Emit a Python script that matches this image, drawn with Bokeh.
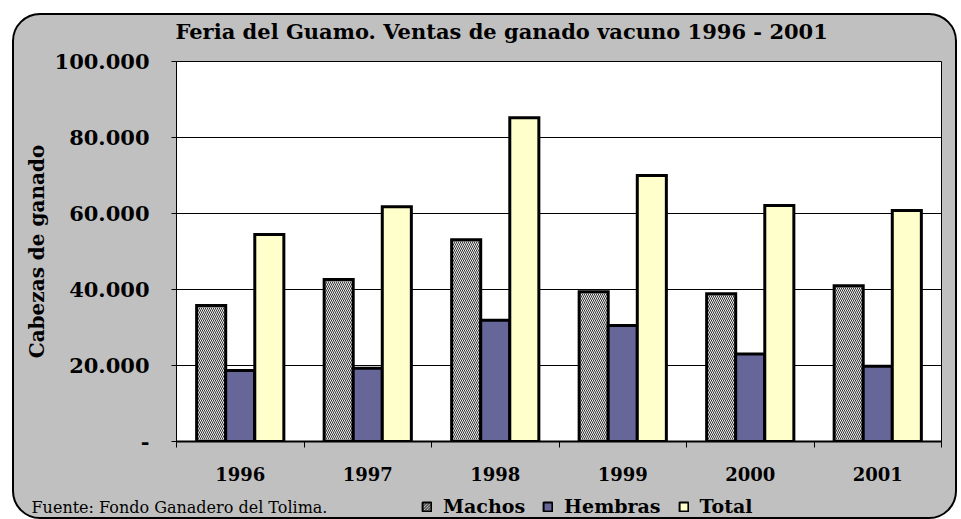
import numpy as np
from bokeh.plotting import figure
from bokeh.layouts import column
from bokeh.models import (FixedTicker, Legend, LegendItem, Range1d, Label)
from bokeh.embed import file_html
from bokeh.resources import INLINE

# ---- data ----
years = ["1996", "1997", "1998", "1999", "2000", "2001"]
machos = [35800, 42600, 53100, 39400, 38900, 41000]
hembras = [18700, 19300, 31900, 30500, 23000, 19800]
total = [54500, 61800, 85200, 70000, 62100, 60800]
series_names = ["Machos", "Hembras", "Total"]
series_colors = ["#f2f2f2", "#666699", "#FFFFCC"]
series_hatch = ["left_diagonal_line", None, None]
y_ticks = [0, 20000, 40000, 60000, 80000, 100000]
y_tick_labels = ["-", "20.000", "40.000", "60.000", "80.000", "100.000"]
title_text = "Feria del Guamo. Ventas de ganado vacuno 1996 - 2001"
y_label = "Cabezas de ganado"
source_text = "Fuente: Fondo Ganadero del Tolima."

SERIF = "DejaVu Serif"
W = 941


def no_align(f):
    if "frame_align" in f.properties():
        f.frame_align = False
    return f


def strip(height):
    f = figure(width=W, height=height, x_range=Range1d(0, 1), y_range=Range1d(0, 1),
               x_axis_type=None, y_axis_type=None, title=None,
               output_backend="svg", toolbar_location=None, min_border=0,
               background_fill_alpha=0, border_fill_alpha=0,
               outline_line_color=None)
    return no_align(f)


# ---- title strip ----
top = strip(34)
top.add_layout(Label(x=161, y=18, x_units="screen", y_units="screen",
                     text=title_text, text_font=SERIF, text_font_style="bold",
                     text_font_size="21px", text_baseline="middle",
                     text_color="black"))

# ---- main chart ----
fig = figure(width=W, height=438, title=None,
             x_range=Range1d(0, len(years)), y_range=Range1d(0, 100000),
             output_backend="svg", toolbar_location=None,
             min_border_left=162, min_border_right=14,
             min_border_top=12, min_border_bottom=46,
             background_fill_color="white", border_fill_alpha=0)
no_align(fig)
fig.outline_line_color = "black"
fig.outline_line_width = 1

centers = np.arange(len(years)) + 0.5
w = 0.228
offsets = [-w, 0.0, w]
values = [machos, hembras, total]
hatch_kw = dict(hatch_color="#303030", hatch_scale=4, hatch_weight=1)
bar_kw = dict(width=w, line_color="black", line_width=3, line_join="miter", **hatch_kw)
for vals, off, col, hp in zip(values, offsets, series_colors, series_hatch):
    fig.vbar(x=centers + off, top=vals, fill_color=col, hatch_pattern=hp, **bar_kw)

# y axis
fig.yaxis.ticker = FixedTicker(ticks=y_ticks)
fig.yaxis.major_label_overrides = {t: l for t, l in zip(y_ticks, y_tick_labels)}
fig.yaxis.major_label_text_font = SERIF
fig.yaxis.major_label_text_font_style = "bold"
fig.yaxis.major_label_text_font_size = "21px"
fig.yaxis.major_label_text_color = "black"
fig.yaxis.major_tick_in = 0
fig.yaxis.major_tick_out = 5
fig.yaxis.minor_tick_line_color = None
fig.yaxis.major_label_standoff = 22
fig.yaxis.axis_line_color = "black"
fig.yaxis.axis_line_width = 1
fig.yaxis.axis_label = y_label
fig.yaxis.axis_label_text_font = SERIF
fig.yaxis.axis_label_text_font_style = "bold"
fig.yaxis.axis_label_text_font_size = "20px"
fig.yaxis.axis_label_text_color = "black"
fig.yaxis.axis_label_standoff = 3

# x axis: labels at group centres, ticks at group boundaries
fig.xaxis.ticker = FixedTicker(ticks=list(centers),
                               minor_ticks=list(range(len(years) + 1)))
fig.xaxis.major_label_overrides = {float(c): y for c, y in zip(centers, years)}
fig.xaxis.major_label_text_font = SERIF
fig.xaxis.major_label_text_font_style = "bold"
fig.xaxis.major_label_text_font_size = "18px"
fig.xaxis.major_label_text_color = "black"
fig.xaxis.major_tick_in = 0
fig.xaxis.major_tick_out = 0
fig.xaxis.minor_tick_in = 0
fig.xaxis.minor_tick_out = 6
fig.xaxis.minor_tick_line_color = "black"
fig.xaxis.minor_tick_line_width = 1
fig.xaxis.major_label_standoff = 19
fig.xaxis.axis_line_color = "black"
fig.xaxis.axis_line_width = 2

fig.xgrid.grid_line_color = None
fig.ygrid.ticker = FixedTicker(ticks=y_ticks)
fig.ygrid.grid_line_color = "black"
fig.ygrid.grid_line_width = 1
fig.ygrid.grid_line_alpha = 1

# ---- legend / source strip ----
bottom = strip(30)
legend_renderers = []
for vals, off, col, hp in zip(values, offsets, series_colors, series_hatch):
    legend_renderers.append(
        bottom.vbar(x=centers + off, top=vals, width=w, fill_color=col,
                    hatch_pattern=hp, line_color="black", line_width=2,
                    hatch_color="#303030", hatch_scale=3, hatch_weight=1,
                    visible=False))
legend = Legend(items=[LegendItem(label=n, renderers=[r])
                       for n, r in zip(series_names, legend_renderers)],
                location=(407, 0), orientation="horizontal",
                glyph_width=11, glyph_height=11, label_standoff=11, spacing=17,
                padding=0, margin=0, border_line_alpha=0,
                background_fill_alpha=0, inactive_fill_alpha=0,
                label_text_font=SERIF, label_text_font_style="bold",
                label_text_font_size="19px", label_text_color="black")
bottom.add_layout(legend)
bottom.add_layout(Label(x=17, y=10, x_units="screen", y_units="screen",
                        text=source_text, text_font=SERIF, text_font_size="16px",
                        text_baseline="middle", text_color="black"))

p = column(top, fig, bottom, spacing=0, margin=(13, 0, 0, 12),
           styles={"border": "2px solid black", "border-radius": "28px",
                   "background-color": "#C0C0C0", "box-sizing": "border-box"})

open("out.html", "w").write(file_html(p, INLINE))
